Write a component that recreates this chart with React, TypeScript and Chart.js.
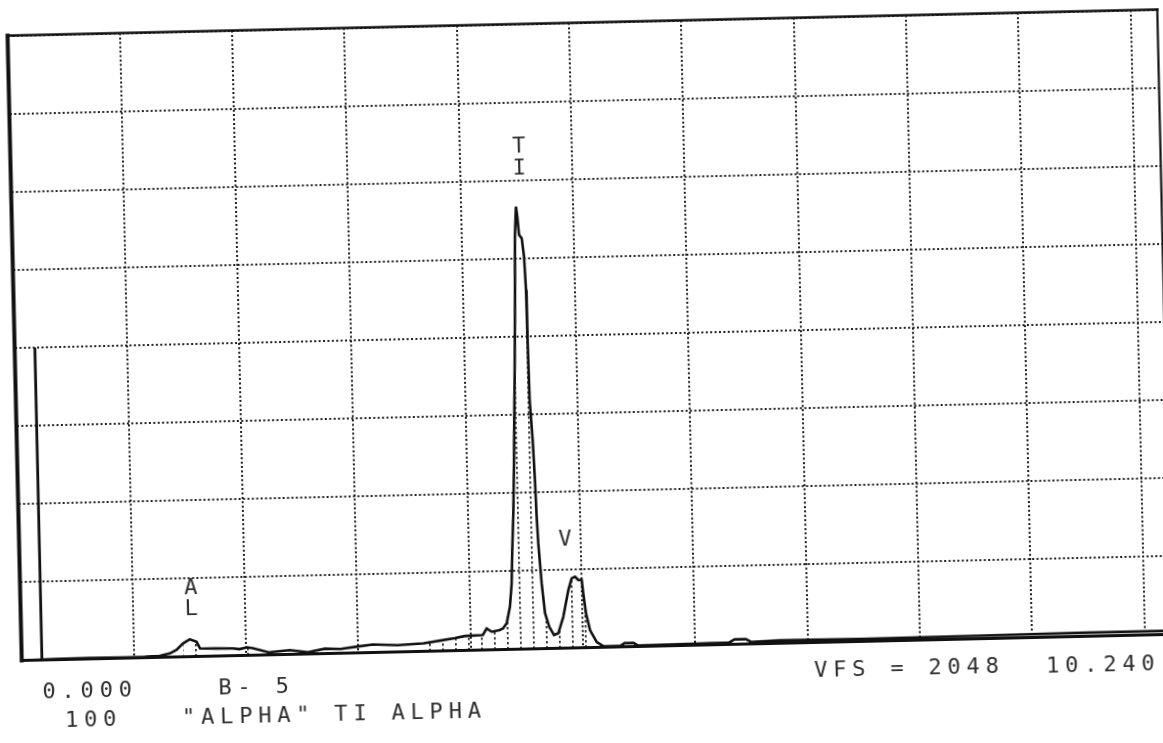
import React, { useEffect, useRef } from "react";
import { Chart, registerables } from "chart.js";

Chart.register(...registerables);

// ---- data (energy in keV, counts) ----
const X_MAX_KEV = 10.24;
const VFS = 2048;
const GRID_STEP_KEV = 1;
const GRID_STEP_COUNTS = 256;

const energyKeV = [
  0.0, 0.3, 0.6, 0.9, 1.1, 1.23, 1.32, 1.38, 1.44, 1.5, 1.56, 1.59, 1.72, 1.88, 1.94, 2.01, 2.06,
  2.2, 2.39, 2.55, 2.7, 2.84, 2.98, 3.13, 3.35, 3.58, 3.73, 3.86, 3.95, 4.11, 4.145, 4.19, 4.26,
  4.29, 4.325, 4.357, 4.377, 4.389, 4.406, 4.421, 4.434, 4.448, 4.464, 4.476, 4.491, 4.501, 4.513,
  4.536, 4.553, 4.564, 4.568, 4.574, 4.593, 4.605, 4.613, 4.622, 4.644, 4.668, 4.703, 4.743, 4.782,
  4.83, 4.88, 4.912, 4.942, 4.971, 5.001, 5.012, 5.033, 5.065, 5.122, 5.18, 5.33, 5.37, 5.45, 5.49,
  6.0, 6.3, 6.35, 6.45, 6.5, 6.75, 7.5, 8.5, 9.5, 10.24,
];
const counts = [
  0, 2, 3, 2, 3, 5, 12, 23, 44, 57, 48, 26, 25, 24, 21, 26, 23,
  8, 14, 6, 16, 14, 20, 26, 22, 26, 34, 41, 47, 49, 70, 59, 64,
  69, 86, 140, 216, 325, 446, 598, 762, 926, 1144, 1352, 1450, 1417, 1357,
  1346, 1286, 1176, 1013, 816, 684, 553, 433, 346, 214, 116, 71, 44, 49,
  103, 190, 228, 233, 222, 222, 179, 112, 57, 18, 4, 3, 12, 12, 3,
  5, 6, 16, 16, 6, 10, 8, 10, 12, 12,
];

// regions of interest (hatched)
const roiStartKeV = [1.4, 1.94, 3.5];
const roiEndKeV = [1.6, 2.06, 5.15];

// cursor line at the low-energy end
const markerKeV = [0.18, 0.18];
const markerCounts = [0, 1024];

// element markers
const peakLabels = ["T", "I", "V", "A", "L"];
const peakLabelKeV = [4.53, 4.53, 4.86, 1.52, 1.52];
const peakLabelCounts = [1645, 1572, 354, 225, 155];

// footer text
const footerSample = "B- 5";
const footerTime = "100";
const footerTitle = '"ALPHA" TI ALPHA';

// ---- layout (style only) ----
const CANVAS_W = 1200;
const CANVAS_H = 760;
const AREA_LEFT = 14.5;
const AREA_TOP = 22.5;
const AREA_W = 1150;
const AREA_H = 625;
const INK = "#111";
const TEXT_INK = "#2e2e2e";
const MONO = '"DejaVu Sans Mono", "Liberation Mono", monospace';

function makeHatch(): CanvasPattern | string {
  const c = document.createElement("canvas");
  c.width = 13;
  c.height = 5;
  const g = c.getContext("2d");
  if (!g) return "rgba(0,0,0,0.2)";
  g.fillStyle = "#333";
  g.fillRect(6, 0, 1.8, 2.4);
  const p = g.createPattern(c, "repeat");
  return p || "rgba(0,0,0,0.2)";
}

const framePlugin = {
  id: "frameAndText",
  afterDatasetsDraw(chart: any) {
    const { ctx, chartArea, scales } = chart;
    const { left, top, right, bottom } = chartArea;
    const line = (x1: number, y1: number, x2: number, y2: number, w: number) => {
      ctx.beginPath();
      ctx.lineWidth = w;
      ctx.moveTo(x1, y1);
      ctx.lineTo(x2, y2);
      ctx.stroke();
    };
    ctx.save();
    ctx.strokeStyle = INK;
    ctx.lineCap = "square";
    line(left, top, right, top, 2.4);
    line(right, top, right, bottom, 2.2);
    line(left, top, left, bottom, 4);
    line(left, bottom, right, bottom, 3.2);

    // element markers
    ctx.fillStyle = TEXT_INK;
    ctx.font = `22px ${MONO}`;
    ctx.textAlign = "center";
    ctx.textBaseline = "middle";
    try { (ctx as any).letterSpacing = "0px"; } catch (e) {}
    peakLabels.forEach((t, i) => {
      ctx.fillText(t, scales.x.getPixelForValue(peakLabelKeV[i]), scales.y.getPixelForValue(peakLabelCounts[i]));
    });

    // footer
    ctx.textAlign = "left";
    ctx.textBaseline = "alphabetic";
    try { (ctx as any).letterSpacing = "5.8px"; } catch (e) {}
    const row1 = bottom + 38;
    const row2 = bottom + 67;
    ctx.fillText((0).toFixed(3), left + 20, row1);
    ctx.fillText(footerSample, left + 196, row1);
    ctx.fillText(footerTime, left + 42, row2);
    ctx.fillText(footerTitle, left + 159, row2);
    ctx.fillText(`VFS = ${VFS}`, left + 792, bottom + 34.5);
    ctx.fillText(X_MAX_KEV.toFixed(3), left + 1024, bottom + 35);
    ctx.restore();
  },
};

export default function App() {
  const canvasRef = useRef<HTMLCanvasElement | null>(null);

  useEffect(() => {
    document.body.style.overflow = "hidden";
    const canvas = canvasRef.current;
    if (!canvas) return;
    const hatch = makeHatch();

    const spectrum = energyKeV.map((x, i) => ({ x, y: counts[i] }));
    const roiSets = roiStartKeV.map((s, r) => ({
      type: "line" as const,
      data: spectrum.filter((p) => p.x >= s && p.x <= roiEndKeV[r]),
      borderWidth: 0,
      borderColor: "rgba(0,0,0,0)",
      backgroundColor: hatch as any,
      fill: "origin" as const,
      pointRadius: 0,
      order: 3,
    }));

    const chart = new Chart(canvas, {
      type: "line",
      data: {
        datasets: [
          {
            data: spectrum,
            borderColor: INK,
            borderWidth: 2.6,
            pointRadius: 0,
            fill: false,
            tension: 0,
            order: 1,
          },
          ...roiSets,
          {
            data: markerKeV.map((x, i) => ({ x, y: markerCounts[i] })),
            borderColor: INK,
            borderWidth: 2.8,
            pointRadius: 0,
            fill: false,
            order: 2,
          },
        ],
      },
      options: {
        responsive: false,
        animation: false,
        events: [],
        layout: {
          padding: {
            left: AREA_LEFT,
            top: AREA_TOP,
            right: CANVAS_W - AREA_LEFT - AREA_W,
            bottom: CANVAS_H - AREA_TOP - AREA_H,
          },
        },
        plugins: { legend: { display: false }, tooltip: { enabled: false } },
        scales: {
          x: {
            type: "linear",
            min: 0,
            max: X_MAX_KEV,
            ticks: { display: false, stepSize: GRID_STEP_KEV, includeBounds: false },
            grid: { color: "#1e1e1e", lineWidth: 2, drawTicks: false },
            border: { display: false, dash: [2, 2.4] },
          },
          y: {
            type: "linear",
            min: 0,
            max: VFS,
            ticks: { display: false, stepSize: GRID_STEP_COUNTS },
            grid: { color: "#1e1e1e", lineWidth: 2, drawTicks: false },
            border: { display: false, dash: [2, 2.4] },
          },
        },
      },
      plugins: [framePlugin],
    });

    return () => chart.destroy();
  }, []);

  return (
    <div
      style={{
        position: "fixed",
        left: 0,
        top: 0,
        width: CANVAS_W,
        height: CANVAS_H,
        transform: "rotate(-1.3deg)",
        transformOrigin: "589.5px 335px",
        background: "#fff",
      }}
    >
      <canvas ref={canvasRef} width={CANVAS_W} height={CANVAS_H} style={{ display: "block" }} />
    </div>
  );
}
